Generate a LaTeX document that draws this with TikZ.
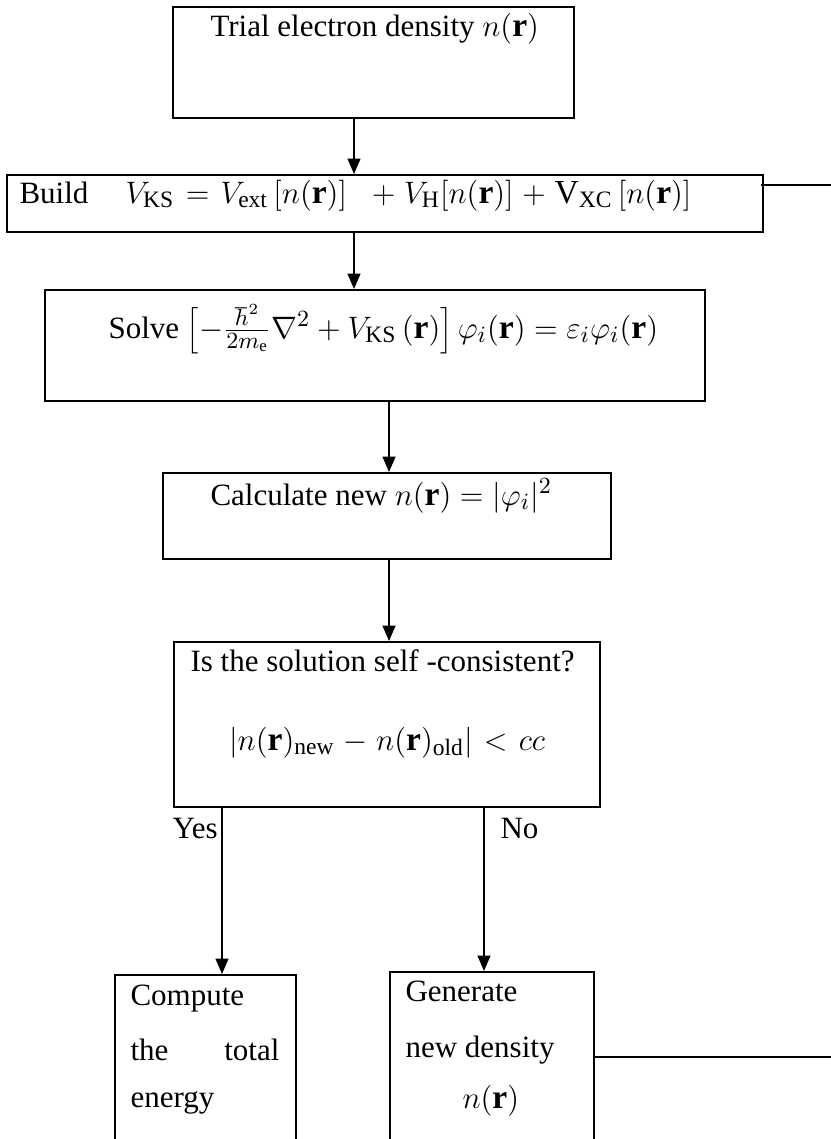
\documentclass[tikz,border=0pt]{standalone}
\usepackage{fontspec}
\setmainfont{Liberation Serif}
\usetikzlibrary{arrows.meta,fit}
\newcommand{\mth}[1]{{\fontsize{13}{15}\selectfont$#1$}}
\begin{document}
\begin{tikzpicture}[x=0.387pt,y=-0.387pt,
  box/.style={draw, line width=0.75pt, inner sep=0pt},
  arr/.style={line width=0.6pt, -{Triangle[length=6pt,width=5pt]}},
  wire/.style={line width=0.6pt},
  txt/.style={inner sep=0pt, font=\fontsize{12}{14}\selectfont},
  wide/.style={execute at begin node={\thickmuskip=6.5mu plus 2mu\medmuskip=5mu plus 2mu}}]
\useasboundingbox (0,0) rectangle (831,1139);
\clip (0,0) rectangle (831,1139);
\fill[white] (0,0) rectangle (831,1139);

% boxes
\coordinate (t1) at (173,7);   \coordinate (t2) at (574,118);
\node[box, fit=(t1)(t2)] (trial) {};
\coordinate (b1) at (7,175);   \coordinate (b2) at (763,232);
\node[box, fit=(b1)(b2)] (build) {};
\coordinate (s1) at (45,290);  \coordinate (s2) at (705,401);
\node[box, fit=(s1)(s2)] (solve) {};
\coordinate (c1) at (163,473); \coordinate (c2) at (611,559);
\node[box, fit=(c1)(c2)] (calc) {};
\coordinate (i1) at (174,642); \coordinate (i2) at (600,807);
\node[box, fit=(i1)(i2)] (isbox) {};
\coordinate (p1) at (115,975); \coordinate (p2) at (296,1170);
\node[box, fit=(p1)(p2)] (comp) {};
\coordinate (g1) at (390,972); \coordinate (g2) at (594,1170);
\node[box, fit=(g1)(g2)] (gen) {};

% texts
\node[txt, anchor=base west] (trialtxt) at (210,36) {Trial electron density \mth{n(\mathbf{r})}};
\node[txt, anchor=base west] (buildtxt) at (19,203) {Build};
\node[txt, wide, anchor=base west] (buildeq) at (125,203) {\mth{V_{\mathrm{KS}} = V_{\mathrm{ext}}\,[n(\mathbf{r})]\;\, + V_{\mathrm{H}}[n(\mathbf{r})] + \mathrm{V}_{\mathrm{XC}}\,[n(\mathbf{r})]}};
\node[txt, anchor=base west] (solvetxt) at (108,338) {Solve \mth{\Bigl[-\frac{\hbar^2}{2m_{\mathrm{e}}}\nabla^2 + V_{\mathrm{KS}}\,(\mathbf{r})\Bigr]\,\varphi_i(\mathbf{r}) = \varepsilon_i\varphi_i(\mathbf{r})}};
\node[txt, anchor=base west] (calctxt) at (210,505) {Calculate new \mth{n(\mathbf{r}) = |\varphi_i|^2}};
\node[txt, anchor=base west] (istxt) at (190,671) {Is the solution self -consistent?};
\node[txt, wide, anchor=base] (iseq) at (387,750) {\mth{|n(\mathbf{r})_{\mathrm{new}} - n(\mathbf{r})_{\mathrm{old}}| < cc}};
\node[txt, anchor=base west] (yes) at (172,838) {Yes};
\node[txt, anchor=base west] (no) at (500,838) {No};
\node[txt, anchor=base west] (comp1) at (130,1005) {Compute};
\node[txt, anchor=base west] (comp2a) at (130,1060) {the};
\node[txt, anchor=base east] (comp2b) at (280,1060) {total};
\node[txt, anchor=base west] (comp3) at (130,1107) {energy};
\node[txt, anchor=base west] (gen1) at (405,1001) {Generate};
\node[txt, anchor=base west] (gen2) at (405,1057) {new density};
\node[txt, anchor=base west] (gen3) at (462,1108) {\mth{n(\mathbf{r})}};

% connectors
\coordinate (ax1) at (354,0);
\coordinate (ax2) at (389,0);
\coordinate (ay) at (222,0);
\coordinate (an) at (484,0);
\draw[arr] (ax1 |- trial.south) -- (ax1 |- build.north);
\draw[arr] (ax1 |- build.south) -- (ax1 |- solve.north);
\draw[arr] (ax2 |- solve.south) -- (ax2 |- calc.north);
\draw[arr] (ax2 |- calc.south) -- (ax2 |- isbox.north);
\draw[arr] (ay |- isbox.south) -- (ay |- comp.north);
\draw[arr] (an |- isbox.south) -- (an |- gen.north);
\coordinate (e1) at (831,185);
\coordinate (e2) at (831,1057);
\draw[wire] ([xshift=-1pt]build.east |- e1) -- (e1);
\draw[wire] (gen.east |- e2) -- (e2);
\end{tikzpicture}
\end{document}
